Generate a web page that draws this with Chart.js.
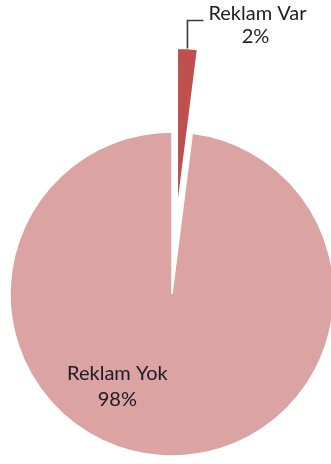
<!DOCTYPE html>
<html>
<head>
<meta charset="utf-8">
<script src="https://cdn.jsdelivr.net/npm/chart.js@4"></script>
<style>
  html, body { margin: 0; padding: 0; background: #fff; overflow: hidden; }
  #wrap { position: relative; width: 331px; height: 464px; }
</style>
</head>
<body>
<div id="wrap"><canvas id="c" width="331" height="464"></canvas></div>
<script>
// Slice names and their shares
const categories = ['Reklam Var', 'Reklam Yok'];
const values = [2, 98];
const sliceColors = ['#C0504D', '#DBA3A2'];
// how far each slice is pulled out of the pie, in pixels
const explode = [84, 0];

const total = values.reduce((a, b) => a + b, 0);
const pctText = v => Math.round(v / total * 100) + '%';

const FONT = '20px Lato, "Open Sans", sans-serif';
const TEXT = '#1c1c28';

const arcDraw = Chart.ArcElement.prototype.draw;

// Moves exploded slices outward along their bisector without growing them
const explodeSlices = {
  id: 'explodeSlices',
  afterDatasetsUpdate(chart) {
    chart.getDatasetMeta(0).data.forEach((arc, i) => {
      const dist = explode[i] || 0;
      arc.$explode = dist;
      if (!dist) return;
      arc.draw = function (ctx, area) {
        const mid = (this.startAngle + this.endAngle) / 2;
        ctx.save();
        ctx.translate(Math.cos(mid) * dist, Math.sin(mid) * dist);
        arcDraw.call(this, ctx, area);
        ctx.restore();
      };
    });
  }
};

// Draws the two data labels: the small slice gets a bent leader line,
// the large slice gets its label inside the pie.
const sliceLabels = {
  id: 'sliceLabels',
  afterDatasetsDraw(chart) {
    const ctx = chart.ctx;
    const arcs = chart.getDatasetMeta(0).data;
    ctx.save();
    ctx.font = FONT;
    ctx.fillStyle = TEXT;
    ctx.textAlign = 'center';
    ctx.textBaseline = 'alphabetic';

    // small slice: leader from its outer edge, up then right
    {
      const a = arcs[0];
      const p = a.getProps(['x', 'y', 'startAngle', 'endAngle', 'outerRadius']);
      const mid = (p.startAngle + p.endAngle) / 2;
      const r = p.outerRadius + (a.$explode || 0);
      const sx = p.x + Math.cos(mid) * r;
      const sy = p.y + Math.sin(mid) * r;
      const ky = sy - 28;
      const ex = sx + 16;
      ctx.strokeStyle = '#3a3a3a';
      ctx.lineWidth = 1.6;
      ctx.beginPath();
      ctx.moveTo(sx, sy);
      ctx.lineTo(sx, ky);
      ctx.lineTo(ex, ky);
      ctx.stroke();
      const tx = ex + 54;
      ctx.fillText(categories[0], tx, ky);
      ctx.fillText(pctText(values[0]), tx - 2, ky + 23);
    }

    // large slice: label inside, lower-left of the centre
    {
      const a = arcs[1];
      const p = a.getProps(['x', 'y', 'outerRadius']);
      const ang = (208.8 - 90) * Math.PI / 180;
      const d = p.outerRadius * 0.70;
      const lx = p.x + Math.cos(ang) * d;
      const ly = p.y + Math.sin(ang) * d;
      ctx.fillText(categories[1], lx, ly - 13);
      ctx.fillText(pctText(values[1]), lx, ly + 13);
    }
    ctx.restore();
  }
};

new Chart(document.getElementById('c'), {
  type: 'pie',
  data: {
    labels: categories,
    datasets: [{
      data: values,
      backgroundColor: sliceColors,
      borderColor: '#ffffff',
      borderWidth: 1.5,
      clip: false
    }]
  },
  options: {
    responsive: false,
    animation: false,
    events: [],
    radius: 162,
    layout: { padding: { left: 13, right: 0, top: 124, bottom: 0 } },
    plugins: {
      legend: { display: false },
      tooltip: { enabled: false }
    }
  },
  plugins: [explodeSlices, sliceLabels]
});
</script>
</body>
</html>
